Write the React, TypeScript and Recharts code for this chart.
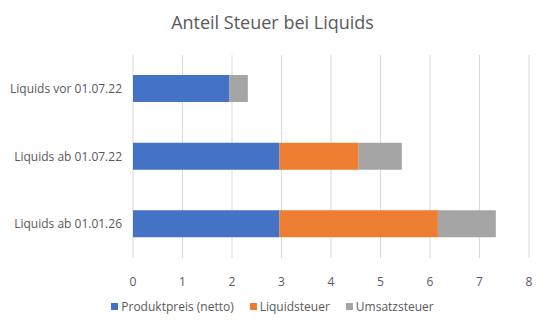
import { BarChart, Bar, XAxis, YAxis, CartesianGrid } from "recharts";

const categories = ["Liquids vor 01.07.22", "Liquids ab 01.07.22", "Liquids ab 01.01.26"];
const produktpreis = [1.95, 2.96, 2.96];
const liquidsteuer = [0, 1.6, 3.2];
const umsatzsteuer = [0.37, 0.87, 1.17];
const xTicks = [0, 1, 2, 3, 4, 5, 6, 7, 8];

const series = [
  { key: "Produktpreis (netto)", color: "#4472c4" },
  { key: "Liquidsteuer", color: "#ed7d31" },
  { key: "Umsatzsteuer", color: "#a5a5a5" },
];

const data = categories.map((name, i) => ({
  name,
  "Produktpreis (netto)": produktpreis[i],
  Liquidsteuer: liquidsteuer[i],
  Umsatzsteuer: umsatzsteuer[i],
}));

const FONT = "'Open Sans', sans-serif";
const TEXT = "#595959";

function CatTick({ x, y, payload }: any) {
  return (
    <text x={x} y={y} dy={4} textAnchor="end" fill={TEXT} fontSize={12} fontFamily={FONT}>
      {payload.value}
    </text>
  );
}

export default function App() {
  return (
    <div style={{ position: "relative", width: 545, height: 326, background: "#fff", fontFamily: FONT }}>
      <style>{`body{margin:0}`}</style>
      <div style={{ position: "absolute", top: 10, left: 0, width: 545, textAlign: "center", fontSize: 18, color: TEXT }}>
        Anteil Steuer bei Liquids
      </div>
      <BarChart
        width={545}
        height={326}
        data={data}
        layout="vertical"
        margin={{ top: 55, right: 16, left: 0, bottom: 38 }}
      >
        <CartesianGrid stroke="#d9d9d9" horizontal={false} />
        <XAxis
          type="number"
          domain={[0, 8]}
          ticks={xTicks}
          axisLine={false}
          tickLine={false}
          height={30}
          tick={{ fill: TEXT, fontSize: 12, fontFamily: FONT }}
          tickMargin={13}
        />
        <YAxis
          type="category"
          dataKey="name"
          width={133}
          axisLine={false}
          tickLine={false}
          tick={<CatTick />}
          tickMargin={5}
        />
        {series.map((s) => (
          <Bar key={s.key} dataKey={s.key} stackId="a" fill={s.color} barSize={27} isAnimationActive={false} />
        ))}
      </BarChart>
      <div
        style={{
          position: "absolute",
          top: 298,
          left: 0,
          width: 545,
          display: "flex",
          justifyContent: "center",
          gap: 16,
          fontSize: 12,
          color: TEXT,
        }}
      >
        {series.map((s) => (
          <div key={s.key} style={{ display: "flex", alignItems: "center" }}>
            <span style={{ width: 7, height: 7, background: s.color, marginRight: 3, display: "inline-block" }} />
            {s.key}
          </div>
        ))}
      </div>
    </div>
  );
}
